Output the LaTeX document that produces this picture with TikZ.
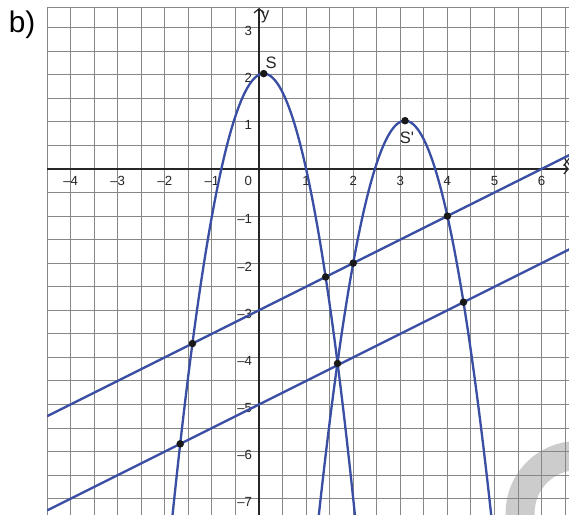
\documentclass[tikz,border=0pt]{standalone}
\usepackage{fontspec}
\setmainfont{Liberation Sans}
\usetikzlibrary{arrows.meta}
\definecolor{curveblue}{RGB}{58,79,163}
\definecolor{gridgray}{RGB}{135,135,135}
\begin{document}
\begin{tikzpicture}[
  gridline/.style={draw=gridgray, line width=0.55pt},
  axisline/.style={draw=black!85, line width=0.75pt},
  curve/.style={draw=curveblue, line width=1.4pt},
  ptdot/.style={fill=black!90},
  ticklbl/.style={font=\fontsize{8}{9}\selectfont, inner sep=0pt, text=black!85},
  ptlbl/.style={font=\fontsize{10}{12}\selectfont, inner sep=0pt, text=black!85}
]
\useasboundingbox (-5.5,-7.346) rectangle (6.582,3.588);
\fill[white] (-5.5,-7.346) rectangle (6.582,3.588);
% gray ring (page decoration)
\draw[black!20, line width=0.616cm] (6.764,-7.306) circle (1.221);
% grid
\begin{scope}
  \clip (-4.5,-7.4) rectangle (6.7,3.43);
  \draw[gridline] (-4.5,-7.5) grid[step=0.5] (6.7,3.5);
\end{scope}
\draw[gridline] (-4.5,-7.4) -- (-4.5,3.43) -- (6.7,3.43);
% axes
\draw[axisline, -{Straight Barb[length=2.5pt,width=6pt]}] (-4.5,0) -- (6.58,0);
\draw[axisline, -{Straight Barb[length=2.5pt,width=6pt]}] (0,-7.4) -- (0,3.42);
% tick labels
\foreach \k/\t/\n in {-4/–4/a,-3/–3/b,-2/–2/c,-1/–1/d,1/1/e,2/2/f,3/3/g,4/4/h,5/5/i,6/6/j}
  \node[ticklbl] (xt\n) at (\k,-0.26) {\t};
\node[ticklbl] (xto) at (-0.23,-0.26) {0};
\foreach \k/\t/\n in {3/3/a,2/2/b,1/1/c,-1/–1/d,-2/–2/e,-3/–3/f,-4/–4/g,-5/–5/h,-6/–6/i,-7/–7/j}
  \node[ticklbl, anchor=east] (yt\n) at (-0.14,\k-0.07) {\t};
\node[ptlbl] (xlab) at (6.54,0.15) {x};
\node[ptlbl] (ylab) at (0.135,3.22) {y};
% curves
\begin{scope}
  \clip (-4.5,-7.4) rectangle (6.7,3.43);
  \draw[curve] plot[domain=-1.95:2.15, samples=200] (\x, {-2.5*\x*\x+0.5*\x+2});
  \draw[curve] plot[domain=1.0:5.2, samples=200] (\x, {-2.5*(\x-3.1)*(\x-3.1)+1.025});
  \draw[curve] (-4.5,-5.25) -- (6.7,0.35);
  \draw[curve] (-4.5,-7.25) -- (6.7,-1.65);
\end{scope}
% points
\foreach \p in {(0.1,2.025),(3.1,1.025),(1.4142,-2.2929),(-1.4142,-3.7071),(2,-2),(4,-1),(-1.6733,-5.8367),(1.667,-4.13),(4.3416,-2.8292)}
  \fill[ptdot] \p circle (0.08);
\node[ptlbl] (slab) at (0.26,2.25) {S};
\node[ptlbl] (splab) at (3.14,0.66) {S\textquotesingle};
\node[font=\fontsize{18}{20}\selectfont, inner sep=0pt] (blab) at (-5.03,3.06) {b)};
\end{tikzpicture}
\end{document}
